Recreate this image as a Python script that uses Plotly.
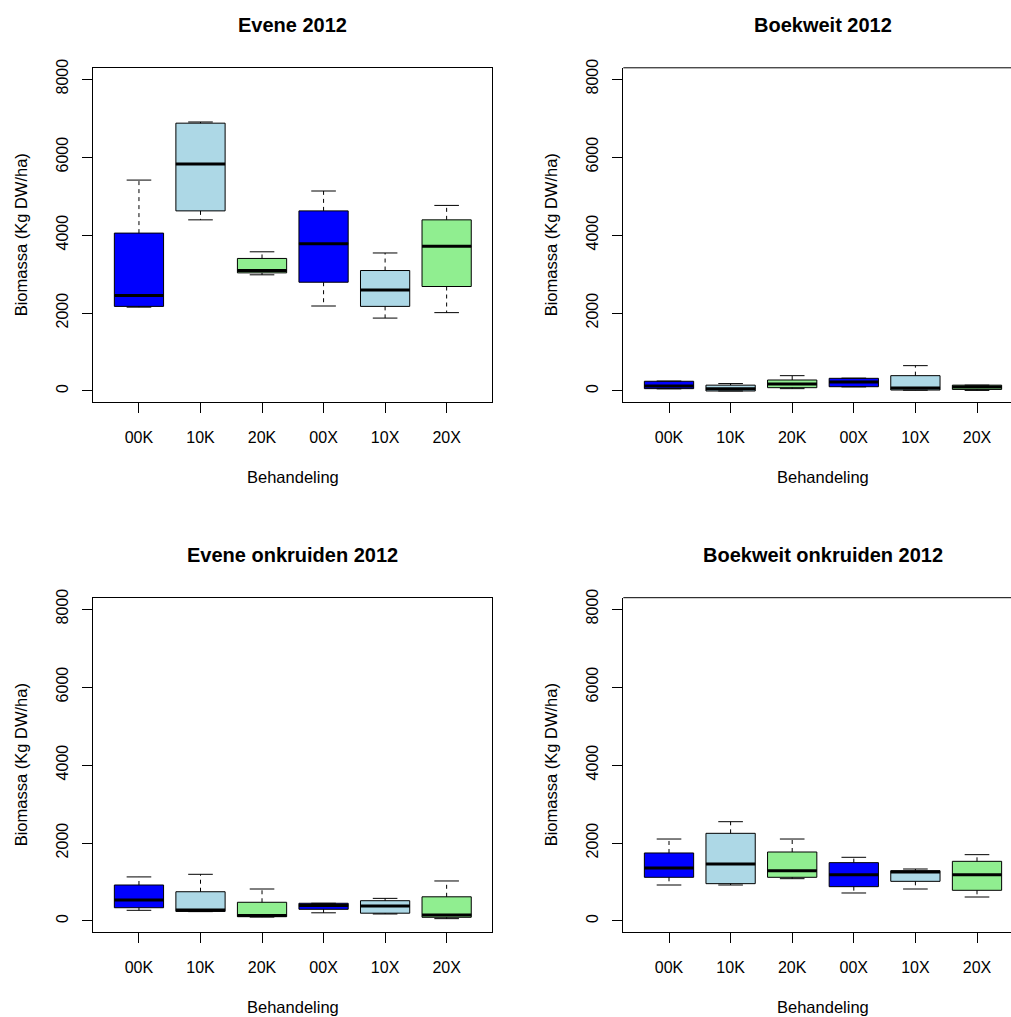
import plotly.graph_objects as go

# ---------------- data ----------------
categories = ["00K", "10K", "20K", "00X", "10X", "20X"]
box_colors = ["#0000FF", "#ADD8E6", "#90EE90", "#0000FF", "#ADD8E6", "#90EE90"]
y_ticks = [0, 2000, 4000, 6000, 8000]
titles = ["Evene 2012", "Boekweit 2012", "Evene onkruiden 2012", "Boekweit onkruiden 2012"]
x_title = "Behandeling"
y_title = "Biomassa (Kg DW/ha)"

evene_min = [2150, 4390, 2980, 2180, 1870, 2010]
evene_q1 = [2170, 4620, 3030, 2790, 2170, 2680]
evene_med = [2450, 5820, 3090, 3780, 2590, 3710]
evene_q3 = [4050, 6870, 3400, 4620, 3090, 4390]
evene_max = [5410, 6900, 3570, 5130, 3540, 4760]

boekweit_min = [55, 0, 60, 105, 20, 15]
boekweit_q1 = [60, 0, 85, 110, 25, 40]
boekweit_med = [130, 60, 180, 230, 75, 100]
boekweit_q3 = [250, 150, 282, 325, 393, 150]
boekweit_max = [255, 190, 393, 330, 650, 150]

evene_onk_min = [274, 240, 100, 210, 180, 60]
evene_onk_q1 = [340, 245, 110, 300, 200, 95]
evene_onk_med = [540, 282, 140, 400, 385, 155]
evene_onk_q3 = [923, 750, 480, 455, 520, 620]
evene_onk_max = [1130, 1197, 820, 455, 580, 1026]

boekweit_onk_min = [923, 923, 1085, 718, 820, 615]
boekweit_onk_q1 = [1120, 957, 1120, 880, 1017, 787]
boekweit_onk_med = [1359, 1461, 1290, 1188, 1256, 1188]
boekweit_onk_q3 = [1744, 2248, 1769, 1496, 1290, 1530]
boekweit_onk_max = [2102, 2546, 2102, 1633, 1333, 1701]

panels = [
    (evene_min, evene_q1, evene_med, evene_q3, evene_max),
    (boekweit_min, boekweit_q1, boekweit_med, boekweit_q3, boekweit_max),
    (evene_onk_min, evene_onk_q1, evene_onk_med, evene_onk_q3, evene_onk_max),
    (boekweit_onk_min, boekweit_onk_q1, boekweit_onk_med, boekweit_onk_q3, boekweit_onk_max),
]

# ---------------- layout geometry ----------------
W, H = 1011, 1017
FONT = "Liberation Sans, Arial, sans-serif"
BOX_W = 0.8
CAP_W = 0.4


def px(x):
    return x / W


def py(y):
    return 1 - y / H


# pixel frames: (left, right(visible), top, bottom, full-right for centering)
frames = [
    (93.3, 492.3, 67.8, 402.3, 492.3),
    (623.3, 1011, 67.8, 402.3, 1022.3),
    (93.3, 492.3, 597.7, 932.3, 492.3),
    (623.3, 1011, 597.7, 932.3, 1022.3),
]
x_ranges = [
    [0.258, 6.742],
    [0.258, 6.552],
    [0.258, 6.742],
    [0.258, 6.552],
]
Y_RANGE = [-290, 8290]

fig = go.Figure()
layout = dict(
    width=W, height=H,
    margin=dict(l=0, r=0, t=0, b=0),
    paper_bgcolor="white", plot_bgcolor="white",
    showlegend=False,
    font=dict(family=FONT, size=16, color="black"),
    annotations=[], shapes=[],
)

for p, (vmin, vq1, vmed, vq3, vmax) in enumerate(panels):
    k = "" if p == 0 else str(p + 1)
    xa, ya = "x" + k, "y" + k
    left, right, top, bottom, full_right = frames[p]
    clipped = right < full_right

    positions = list(range(1, len(categories) + 1))
    for j, pos in enumerate(positions):
        fig.add_trace(go.Box(
            x=[pos], q1=[vq1[j]], median=[vmed[j]], q3=[vq3[j]],
            lowerfence=[vq1[j]], upperfence=[vq3[j]],
            width=BOX_W, whiskerwidth=0,
            fillcolor=box_colors[j],
            line=dict(color="black", width=1),
            xaxis=xa, yaxis=ya, hoverinfo="skip", boxpoints=False,
        ))

    # dashed whiskers
    wx, wy = [], []
    for j, pos in enumerate(positions):
        wx += [pos, pos, None, pos, pos, None]
        wy += [vq3[j], vmax[j], None, vq1[j], vmin[j], None]
    fig.add_trace(go.Scatter(x=wx, y=wy, mode="lines", xaxis=xa, yaxis=ya,
                             line=dict(color="black", width=1, dash="4px,4px"),
                             hoverinfo="skip"))
    # caps
    cx, cy = [], []
    for j, pos in enumerate(positions):
        cx += [pos - CAP_W / 2, pos + CAP_W / 2, None, pos - CAP_W / 2, pos + CAP_W / 2, None]
        cy += [vmax[j], vmax[j], None, vmin[j], vmin[j], None]
    fig.add_trace(go.Scatter(x=cx, y=cy, mode="lines", xaxis=xa, yaxis=ya,
                             line=dict(color="black", width=1), hoverinfo="skip"))
    # thick medians
    mx, my = [], []
    for j, pos in enumerate(positions):
        mx += [pos - BOX_W / 2, pos + BOX_W / 2, None]
        my += [vmed[j], vmed[j], None]
    fig.add_trace(go.Scatter(x=mx, y=my, mode="lines", xaxis=xa, yaxis=ya,
                             line=dict(color="black", width=3), hoverinfo="skip"))

    layout["xaxis" + k] = dict(
        domain=[px(left), px(right)], range=x_ranges[p], anchor=ya,
        tickmode="array", tickvals=positions, ticktext=categories,
        ticks="outside", ticklen=10, tickcolor="black", tickwidth=1,
        showline=True, linecolor="black", linewidth=1, mirror=not clipped,
        showgrid=False, zeroline=False, automargin=False, fixedrange=True,
        tickfont=dict(family=FONT, size=16, color="black"),
        ticklabelstandoff=10,
    )
    layout["yaxis" + k] = dict(
        domain=[py(bottom), py(top)], range=Y_RANGE, anchor=xa,
        tickmode="array", tickvals=y_ticks, ticktext=[str(v) for v in y_ticks],
        tickangle=-90,
        ticks="outside", ticklen=10, tickcolor="black", tickwidth=1,
        showline=True, linecolor="black", linewidth=1, mirror=not clipped,
        showgrid=False, zeroline=False, automargin=False, fixedrange=True,
        tickfont=dict(family=FONT, size=16, color="black"),
        ticklabelstandoff=8,
    )
    if clipped:
        layout["shapes"].append(dict(
            type="line", xref=xa + " domain", yref=ya + " domain",
            x0=0, x1=1, y0=1, y1=1, line=dict(color="black", width=1)))

    cxp = (left + full_right) / 2
    cyp = (top + bottom) / 2
    layout["annotations"].append(dict(
        text="<b>" + titles[p] + "</b>", xref="paper", yref="paper",
        x=px(cxp), y=py(top - 43), xanchor="center", yanchor="middle",
        showarrow=False, font=dict(family=FONT, size=20, color="black")))
    layout["annotations"].append(dict(
        text=x_title, xref="paper", yref="paper",
        x=px(cxp), y=py(bottom + 75), xanchor="center", yanchor="middle",
        showarrow=False, font=dict(family=FONT, size=16.5, color="black")))
    layout["annotations"].append(dict(
        text=y_title, xref="paper", yref="paper", textangle=-90,
        x=px(left - 72), y=py(cyp), xanchor="center", yanchor="middle",
        showarrow=False, font=dict(family=FONT, size=16.5, color="black")))

fig.update_layout(**layout)
fig.write_html(
    "out.html",
    config={"displayModeBar": False, "staticPlot": True},
    post_script="document.body.style.margin='0';document.body.style.padding='0';"
                "document.body.style.overflow='hidden';"
                "document.documentElement.style.overflow='hidden';",
)
